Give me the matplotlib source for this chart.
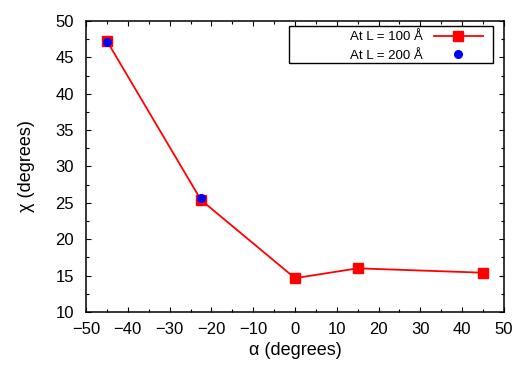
import matplotlib
matplotlib.use('Agg')
import matplotlib.pyplot as plt
from matplotlib.patches import Rectangle
from matplotlib.ticker import MultipleLocator

plt.rcParams['font.family'] = ['Liberation Sans', 'DejaVu Sans']

# data
alpha_100 = [-45, -22.5, 0, 15, 45]
chi_100 = [47.25, 25.4, 14.65, 16.0, 15.4]
alpha_200 = [-45, -22.5]
chi_200 = [47.1, 25.6]

fig = plt.figure(figsize=(5.16, 3.67), dpi=100, facecolor='#ffffff')
ax = fig.add_subplot(111)
fig.subplots_adjust(left=0.1667, right=0.9767, bottom=0.1499, top=0.9428)

ax.plot(alpha_100, chi_100, '-s', color='#ff0000', lw=1.3, ms=7.5,
        label='At L = 100 Å')
ax.plot(alpha_200, chi_200, 'o', color='#0000ff', ms=5.5, ls='none',
        label='At L = 200 Å')

ax.set_xlim(-50, 50)
ax.set_ylim(10, 50)
ax.xaxis.set_major_locator(MultipleLocator(10))
ax.xaxis.set_minor_locator(MultipleLocator(5))
ax.yaxis.set_major_locator(MultipleLocator(5))
ax.yaxis.set_minor_locator(MultipleLocator(2.5))
ax.tick_params(which='both', direction='in', top=True, right=True,
               labelsize=12, colors='#000000')
ax.tick_params(axis='x', which='both', pad=7.5)
ax.tick_params(axis='y', which='both', pad=8.5)
ax.tick_params(which='major', length=3.5, width=0.8)
ax.tick_params(which='minor', length=2, width=0.8)
for sp in ax.spines.values():
    sp.set_linewidth(1.1)

ax.set_xlabel('α (degrees)', fontsize=13)
ax.set_ylabel('χ (degrees)', fontsize=13)
ax.xaxis.set_label_coords(0.5, -0.103)
ax.yaxis.set_label_coords(-0.122, 0.5)

# gnuplot style key: wide box, right-aligned labels
ax.add_patch(Rectangle((0.4856, 0.856), 0.974 - 0.4856, 0.983 - 0.856,
                       transform=ax.transAxes, fill=False,
                       edgecolor='#000000', lw=1.0, zorder=5))
leg = ax.legend(loc='upper right', bbox_to_anchor=(0.955, 0.975),
                fontsize=9.5, markerfirst=False, frameon=False,
                borderpad=0.2, labelspacing=0.5, handlelength=3.7,
                handletextpad=0.8, borderaxespad=0)
for t in leg.get_texts():
    t.set_ha('right')

fig.savefig('out.png', dpi=100)
